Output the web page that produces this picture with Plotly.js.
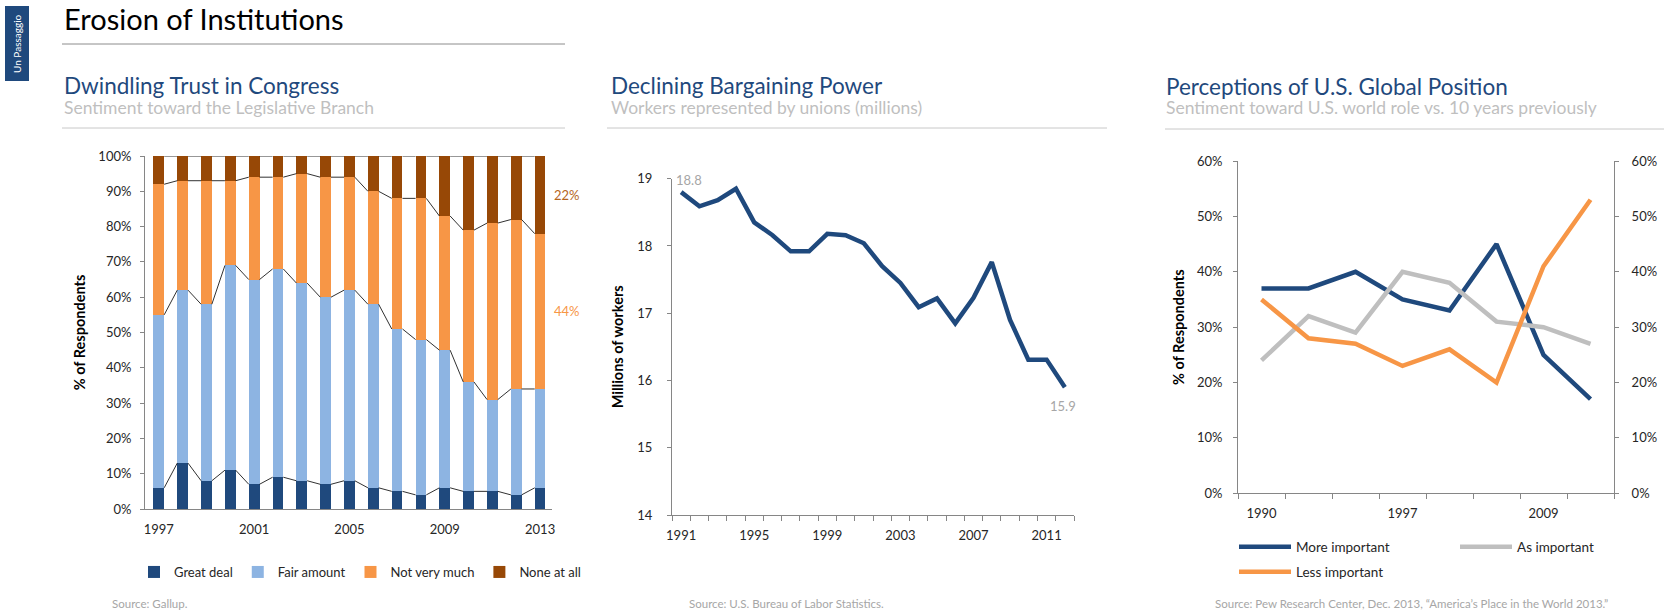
<!DOCTYPE html>
<html>
<head>
<meta charset="utf-8">
<script src="https://cdn.plot.ly/plotly-3.0.1.min.js"></script>
<style>
  html, body { margin: 0; padding: 0; background: #ffffff; }
  #chart { width: 1669px; height: 614px; }
</style>
</head>
<body>
<div id="chart"></div>
<script>
// ---- Dwindling trust in Congress (Gallup), % of respondents ----
const trustYears   = [1997, 1998, 1999, 2000, 2001, 2002, 2003, 2004, 2005, 2006, 2007, 2008, 2009, 2010, 2011, 2012, 2013];
const greatDeal    = [6, 13, 8, 11, 7, 9, 8, 7, 8, 6, 5, 4, 6, 5, 5, 4, 6];
const fairAmount   = [49, 49, 50, 58, 58, 59, 56, 53, 54, 52, 46, 44, 39, 31, 26, 30, 28];
const notVeryMuch  = [37, 31, 35, 24, 29, 26, 31, 34, 32, 32, 37, 40, 38, 43, 50, 48, 44];
const noneAtAll    = [8, 7, 7, 7, 6, 6, 5, 6, 6, 10, 12, 12, 17, 21, 19, 18, 22];
const trustLabelYears = [1997, 2001, 2005, 2009, 2013];

// ---- Workers represented by unions, millions (BLS) ----
const unionYears   = [1991, 1992, 1993, 1994, 1995, 1996, 1997, 1998, 1999, 2000, 2001,
                      2002, 2003, 2004, 2005, 2006, 2007, 2008, 2009, 2010, 2011, 2012];
const unionWorkers = [18.8, 18.59, 18.68, 18.85, 18.35, 18.16, 17.92, 17.92, 18.18, 18.16, 18.04,
                      17.70, 17.45, 17.09, 17.22, 16.85, 17.23, 17.76, 16.90, 16.31, 16.31, 15.9];
const unionLabelYears = [1991, 1995, 1999, 2003, 2007, 2011];

// ---- U.S. world role vs. 10 years earlier (Pew), % ----
const pewYears       = ['1990', '1993', '1995', '1997', '2001', '2004', '2009', '2013'];
const moreImportant  = [37, 37, 40, 35, 33, 45, 25, 17];
const asImportant    = [24, 32, 29, 40, 38, 31, 30, 27];
const lessImportant  = [35, 28, 27, 23, 26, 20, 41, 53];
const pewLabelIdx    = [0, 3, 6];

// ---------------------------------------------------------------
const W = 1669, H = 614;
const px = v => v / W;          // pixel -> paper x
const py = v => 1 - v / H;      // pixel -> paper y

const NAVY = '#1F497D', LIGHTBLUE = '#8DB4E2', ORANGE = '#F79646', BROWN = '#974806';
const GREY_TXT = '#A6A6A6', SUB_TXT = '#BFBFBF', AXIS = '#868686', TICK_TXT = '#262626';
const FONT = 'Lato, "Open Sans", sans-serif';

const barWidth = 0.45;
const trustIdx = trustYears.map((_, i) => i);

// cumulative tops of each stacked segment
const cum1 = greatDeal.map(v => v);
const cum2 = cum1.map((v, i) => v + fairAmount[i]);
const cum3 = cum2.map((v, i) => v + notVeryMuch[i]);
const cum4 = cum3.map((v, i) => v + noneAtAll[i]);

// connector lines drawn between neighbouring bar tops
function seriesLine(cum) {
  const xs = [], ys = [];
  for (let i = 0; i < cum.length - 1; i++) {
    xs.push(trustIdx[i] + barWidth / 2, trustIdx[i + 1] - barWidth / 2, null);
    ys.push(cum[i], cum[i + 1], null);
  }
  return {
    type: 'scatter', mode: 'lines', x: xs, y: ys, xaxis: 'x', yaxis: 'y',
    line: { color: '#1a1a1a', width: 0.9 }, hoverinfo: 'skip', showlegend: false
  };
}

function barTrace(name, vals, color) {
  return {
    type: 'bar', name: name, x: trustIdx, y: vals, width: barWidth,
    marker: { color: color, line: { width: 0 } },
    xaxis: 'x', yaxis: 'y', legend: 'legend'
  };
}

const pewIdx = pewYears.map((_, i) => i);

const traces = [
  barTrace('Great deal', greatDeal, NAVY),
  barTrace('Fair amount', fairAmount, LIGHTBLUE),
  barTrace('Not very much', notVeryMuch, ORANGE),
  barTrace('None at all', noneAtAll, BROWN),
  seriesLine(cum1), seriesLine(cum2), seriesLine(cum3), seriesLine(cum4),

  {
    type: 'scatter', mode: 'lines', x: unionYears, y: unionWorkers,
    xaxis: 'x2', yaxis: 'y2', showlegend: false,
    line: { color: NAVY, width: 4.5 }
  },

  {
    type: 'scatter', mode: 'lines', name: 'More important', x: pewIdx, y: moreImportant,
    xaxis: 'x3', yaxis: 'y3', legend: 'legend2', line: { color: NAVY, width: 4.5 }
  },
  {
    type: 'scatter', mode: 'lines', name: 'As important', x: pewIdx, y: asImportant,
    xaxis: 'x3', yaxis: 'y3', legend: 'legend4', line: { color: '#BFBFBF', width: 4.5 }
  },
  {
    type: 'scatter', mode: 'lines', name: 'Less important', x: pewIdx, y: lessImportant,
    xaxis: 'x3', yaxis: 'y4', legend: 'legend3', line: { color: ORANGE, width: 4.5 }
  }
];

const tickFont = { family: FONT, size: 13, color: TICK_TXT };
const axTitleFont = { family: FONT, size: 14.5, color: '#000000', weight: 'bold' };
const legendFont = { family: FONT, size: 13.5, color: TICK_TXT };

const lastI = trustYears.length - 1;
const lastU = unionYears.length - 1;

function lineLegend(xPix, yPix) {
  return {
    orientation: 'h', x: px(xPix), y: py(yPix), xanchor: 'left', yanchor: 'middle',
    font: legendFont, bgcolor: 'rgba(0,0,0,0)', itemwidth: 52,
    itemclick: false, itemdoubleclick: false
  };
}

const layout = {
  width: W, height: H,
  margin: { l: 0, r: 0, t: 0, b: 0, autoexpand: false },
  paper_bgcolor: '#ffffff', plot_bgcolor: 'rgba(0,0,0,0)',
  font: { family: FONT, color: TICK_TXT },
  barmode: 'stack',
  showlegend: true,

  // ---- left: stacked bars ----
  xaxis: {
    domain: [px(145), px(552)], range: [-0.58, lastI + 0.5],
    tickmode: 'array', tickvals: trustLabelYears.map(y => trustYears.indexOf(y)), ticktext: trustLabelYears.map(String),
    ticks: '', showline: true, linecolor: AXIS, linewidth: 1, showgrid: false, zeroline: false,
    tickfont: tickFont, ticklabelstandoff: 8, fixedrange: true
  },
  yaxis: {
    domain: [py(509), py(156)], range: [0, 100], dtick: 10, ticksuffix: '%',
    ticks: 'outside', ticklen: 4, tickcolor: AXIS, showline: true, linecolor: AXIS, linewidth: 1,
    showgrid: false, zeroline: false, tickfont: tickFont, ticklabelstandoff: 6,
    title: { text: '% of Respondents', font: axTitleFont, standoff: 9 }, fixedrange: true
  },

  // ---- middle: union workers ----
  xaxis2: {
    domain: [px(672), px(1074)], range: [unionYears[0] - 0.5, unionYears[lastU] + 0.5],
    anchor: 'y2',
    tickmode: 'array', tickvals: unionLabelYears, ticktext: unionLabelYears.map(String),
    ticks: '', showline: true, linecolor: AXIS, linewidth: 1, showgrid: false, zeroline: false,
    minor: { tickmode: 'linear', tick0: unionYears[0] - 0.5, dtick: 1, ticks: 'outside', ticklen: 5, tickcolor: AXIS, showgrid: false },
    tickfont: tickFont, ticklabelstandoff: 8, fixedrange: true
  },
  yaxis2: {
    domain: [py(515), py(178.7)], range: [14, 19], dtick: 1, anchor: 'x2',
    ticks: 'outside', ticklen: 4, tickcolor: AXIS, showline: true, linecolor: AXIS, linewidth: 1,
    showgrid: false, zeroline: false, tickfont: tickFont, ticklabelstandoff: 12,
    title: { text: 'Millions of workers', font: axTitleFont, standoff: 10 }, fixedrange: true
  },

  // ---- right: world role ----
  xaxis3: {
    domain: [px(1238), px(1614)], range: [-0.5, pewYears.length - 0.5], anchor: 'y3',
    tickmode: 'array', tickvals: pewLabelIdx, ticktext: pewLabelIdx.map(i => pewYears[i]),
    ticks: '', showline: true, linecolor: AXIS, linewidth: 1, showgrid: false, zeroline: false,
    minor: { tickmode: 'linear', tick0: -0.5, dtick: 1, ticks: 'outside', ticklen: 5, tickcolor: AXIS, showgrid: false },
    tickfont: tickFont, ticklabelstandoff: 8, fixedrange: true
  },
  yaxis3: {
    domain: [py(493.3), py(161)], range: [0, 60], dtick: 10, ticksuffix: '%', anchor: 'x3',
    ticks: 'outside', ticklen: 4, tickcolor: AXIS, showline: true, linecolor: AXIS, linewidth: 1,
    showgrid: false, zeroline: false, tickfont: tickFont, ticklabelstandoff: 8,
    title: { text: '% of Respondents', font: axTitleFont, standoff: 8 }, fixedrange: true
  },
  yaxis4: {
    overlaying: 'y3', side: 'right', anchor: 'x3', range: [0, 60], dtick: 10, ticksuffix: '%',
    ticks: 'outside', ticklen: 4, tickcolor: AXIS, showline: true, linecolor: AXIS, linewidth: 1,
    showgrid: false, zeroline: false, tickfont: tickFont, ticklabelstandoff: 10, fixedrange: true
  },

  legend: {
    orientation: 'h', x: px(134), y: py(572), xanchor: 'left', yanchor: 'middle',
    font: { family: FONT, size: 13, color: TICK_TXT }, bgcolor: 'rgba(0,0,0,0)',
    traceorder: 'normal', itemclick: false, itemdoubleclick: false
  },
  legend2: lineLegend(1234, 547),
  legend4: lineLegend(1455, 547),
  legend3: lineLegend(1234, 572),

  shapes: [
    // side badge
    { type: 'rect', xref: 'paper', yref: 'paper', x0: px(5), x1: px(29), y0: py(81), y1: py(6),
      fillcolor: NAVY, line: { width: 0 } },
    // header rules
    { type: 'line', xref: 'paper', yref: 'paper', x0: px(62), x1: px(565), y0: py(44), y1: py(44),
      line: { color: '#8C8C8C', width: 1 } },
    { type: 'line', xref: 'paper', yref: 'paper', x0: px(62), x1: px(565), y0: py(128), y1: py(128),
      line: { color: '#C8C8C8', width: 1 } },
    { type: 'line', xref: 'paper', yref: 'paper', x0: px(607), x1: px(1107), y0: py(128), y1: py(128),
      line: { color: '#C8C8C8', width: 1 } },
    { type: 'line', xref: 'paper', yref: 'paper', x0: px(1165), x1: px(1664), y0: py(129), y1: py(129),
      line: { color: '#C8C8C8', width: 1 } }
  ],

  annotations: [
    { xref: 'paper', yref: 'paper', x: px(17), y: py(44), text: 'Un Passaggio', textangle: -90,
      showarrow: false, font: { family: FONT, size: 10, color: '#ffffff' }, xanchor: 'center', yanchor: 'middle' },
    { xref: 'paper', yref: 'paper', x: px(62), y: py(18), text: 'Erosion of Institutions',
      showarrow: false, xanchor: 'left', yanchor: 'middle', font: { family: FONT, size: 29, color: '#000000' } },

    { xref: 'paper', yref: 'paper', x: px(62), y: py(85), text: 'Dwindling Trust in Congress',
      showarrow: false, xanchor: 'left', yanchor: 'middle', font: { family: FONT, size: 22.5, color: NAVY } },
    { xref: 'paper', yref: 'paper', x: px(62), y: py(108), text: 'Sentiment toward the Legislative Branch',
      showarrow: false, xanchor: 'left', yanchor: 'middle', font: { family: FONT, size: 17.5, color: SUB_TXT } },

    { xref: 'paper', yref: 'paper', x: px(609), y: py(85), text: 'Declining Bargaining Power',
      showarrow: false, xanchor: 'left', yanchor: 'middle', font: { family: FONT, size: 22.5, color: NAVY } },
    { xref: 'paper', yref: 'paper', x: px(609), y: py(108), text: 'Workers represented by unions (millions)',
      showarrow: false, xanchor: 'left', yanchor: 'middle', font: { family: FONT, size: 17.5, color: SUB_TXT } },

    { xref: 'paper', yref: 'paper', x: px(1164), y: py(86), text: 'Perceptions of U.S. Global Position',
      showarrow: false, xanchor: 'left', yanchor: 'middle', font: { family: FONT, size: 22.5, color: NAVY } },
    { xref: 'paper', yref: 'paper', x: px(1164), y: py(108), text: 'Sentiment toward U.S. world role vs. 10 years previously',
      showarrow: false, xanchor: 'left', yanchor: 'middle', font: { family: FONT, size: 17.5, color: SUB_TXT } },

    // value call-outs
    { xref: 'x', yref: 'y', x: lastI, y: cum3[lastI] + noneAtAll[lastI] / 2, text: noneAtAll[lastI] + '%',
      showarrow: false, xanchor: 'left', yanchor: 'middle', xshift: 12,
      font: { family: FONT, size: 13, color: '#B5651D' } },
    { xref: 'x', yref: 'y', x: lastI, y: cum2[lastI] + notVeryMuch[lastI] / 2, text: notVeryMuch[lastI] + '%',
      showarrow: false, xanchor: 'left', yanchor: 'middle', xshift: 12,
      font: { family: FONT, size: 13, color: ORANGE } },
    { xref: 'x2', yref: 'y2', x: unionYears[0], y: unionWorkers[0], text: unionWorkers[0].toFixed(1),
      showarrow: false, xanchor: 'center', yanchor: 'middle', xshift: 8, yshift: 12,
      font: { family: FONT, size: 13, color: GREY_TXT } },
    { xref: 'x2', yref: 'y2', x: unionYears[lastU], y: unionWorkers[lastU], text: unionWorkers[lastU].toFixed(1),
      showarrow: false, xanchor: 'center', yanchor: 'middle', xshift: -2, yshift: -19,
      font: { family: FONT, size: 13, color: GREY_TXT } },

    // sources
    { xref: 'paper', yref: 'paper', x: px(110), y: py(603), text: 'Source: Gallup.',
      showarrow: false, xanchor: 'left', yanchor: 'middle', font: { family: FONT, size: 11.5, color: GREY_TXT } },
    { xref: 'paper', yref: 'paper', x: px(687), y: py(603), text: 'Source: U.S. Bureau of Labor Statistics.',
      showarrow: false, xanchor: 'left', yanchor: 'middle', font: { family: FONT, size: 11.5, color: GREY_TXT } },
    { xref: 'paper', yref: 'paper', x: px(1213), y: py(603),
      text: 'Source: Pew Research Center, Dec. 2013, \u201cAmerica\u2019s Place in the World 2013.\u201d',
      showarrow: false, xanchor: 'left', yanchor: 'middle', font: { family: FONT, size: 11.5, color: GREY_TXT } }
  ]
};

Plotly.newPlot('chart', traces, layout, { staticPlot: true, displayModeBar: false });
</script>
</body>
</html>
